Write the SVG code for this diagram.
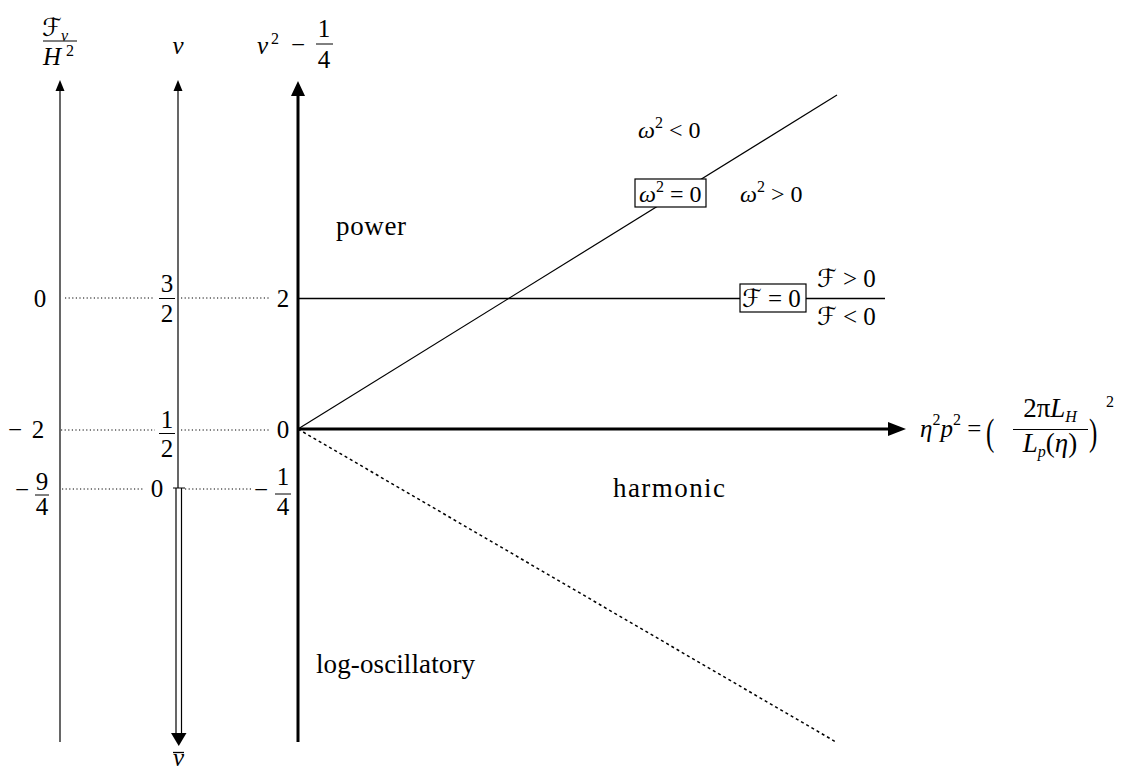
<svg xmlns="http://www.w3.org/2000/svg" width="1122" height="769" viewBox="0 0 1122 769">
<style>
text{font-family:"Liberation Serif","DejaVu Serif",serif;fill:#000;font-size:25px}
.i{font-style:italic}
.sc{font-family:"DejaVu Serif","DejaVu Sans","Noto Sans",serif;font-style:italic}
.w{font-size:27px}
.sm{font-size:24px}
.sup{font-size:16px}
.fx{font-size:27px}
.dot{stroke:#000;stroke-width:1;stroke-dasharray:1.2 2.4;fill:none}
.thin{stroke:#000;stroke-width:1.2;fill:none}
.thick{stroke:#000;stroke-width:3;fill:none}
.fl{stroke:#000;stroke-width:1}
.box{fill:#fff;stroke:#000;stroke-width:1.2}
</style>
<rect width="1122" height="769" fill="#fff"/>
<g id="connectors">
  <line class="thin" x1="60" y1="742" x2="60" y2="88"/>
  <polygon points="60,80 55.5,91 64.5,91"/>
  <line class="thin" x1="178" y1="488" x2="178" y2="88"/>
  <polygon points="178,80 173.5,91 182.5,91"/>
  <line class="fl" x1="173" y1="488" x2="185" y2="488"/>
  <line class="thin" x1="176" y1="488" x2="176" y2="735"/>
  <line class="thin" x1="181.5" y1="488" x2="181.5" y2="735"/>
  <polygon points="171,733 186.5,733 178.75,746"/>
  <line class="thick" x1="298" y1="742" x2="298" y2="92"/>
  <polygon points="298,81 291,96 305,96"/>
  <line class="thick" x1="298" y1="429" x2="892" y2="429"/>
  <polygon points="906,429 888,422 888,436"/>
  <line class="thin" x1="298" y1="429" x2="837" y2="95"/>
  <line x1="298" y1="298.5" x2="885" y2="298.5" stroke="#000" stroke-width="1.3"/>
  <line x1="298" y1="429" x2="836" y2="742" stroke="#000" stroke-width="1.5" stroke-dasharray="3 3"/>
  <line class="dot" x1="65" y1="298" x2="155" y2="298"/>
  <line class="dot" x1="181" y1="298" x2="271" y2="298"/>
  <line class="dot" x1="61" y1="430" x2="155" y2="430"/>
  <line class="dot" x1="181" y1="430" x2="271" y2="430"/>
  <line class="dot" x1="62" y1="489" x2="143" y2="489"/>
  <line class="dot" x1="185" y1="489" x2="253" y2="489"/>
</g>
<g id="label-FH2">
  <text class="sc" x="42" y="36">ℱ</text>
  <text class="i sup" x="61" y="41">ν</text>
  <line class="fl" x1="43" y1="41" x2="77" y2="41"/>
  <text class="i" x="43" y="65">H</text>
  <text class="sup" x="66" y="56">2</text>
</g>
<g id="label-nu">
  <text class="i" x="178" y="54" text-anchor="middle">ν</text>
</g>
<g id="label-nu2">
  <text class="i" x="257" y="54">ν</text>
  <text class="sup" x="271" y="44">2</text>
  <text x="298" y="53" text-anchor="middle">−</text>
  <text x="324" y="37" text-anchor="middle">1</text>
  <line class="fl" x1="316" y1="44" x2="333" y2="44"/>
  <text x="324" y="68" text-anchor="middle">4</text>
</g>
<g id="label-nubar">
  <line x1="173" y1="752.5" x2="184" y2="752.5" stroke="#000" stroke-width="1.3"/>
  <text class="i" x="178.5" y="766" text-anchor="middle" font-size="22">ν</text>
</g>
<g id="ticks-left">
  <text x="40" y="306.5" text-anchor="middle">0</text>
  <text x="15" y="438" text-anchor="middle">−</text>
  <text x="38" y="438" text-anchor="middle">2</text>
  <text x="22" y="498" text-anchor="middle">−</text>
  <text x="42" y="490" text-anchor="middle">9</text>
  <line class="fl" x1="35" y1="495" x2="49" y2="495"/>
  <text x="42" y="515" text-anchor="middle">4</text>
</g>
<g id="ticks-mid">
  <text x="167" y="292" text-anchor="middle">3</text>
  <line class="fl" x1="159" y1="298.5" x2="175" y2="298.5"/>
  <text x="167" y="322" text-anchor="middle">2</text>
  <text x="167" y="428" text-anchor="middle">1</text>
  <line class="fl" x1="159" y1="433.5" x2="175" y2="433.5"/>
  <text x="167" y="457" text-anchor="middle">2</text>
  <text x="157" y="497" text-anchor="middle">0</text>
</g>
<g id="ticks-right">
  <text x="283" y="306.5" text-anchor="middle">2</text>
  <text x="283" y="438" text-anchor="middle">0</text>
  <text x="261" y="498" text-anchor="middle">−</text>
  <text x="283" y="485" text-anchor="middle">1</text>
  <line class="fl" x1="275" y1="494" x2="291" y2="494"/>
  <text x="283" y="515" text-anchor="middle">4</text>
</g>
<g id="region-power">
  <text class="w" x="336" y="235" textLength="70">power</text>
</g>
<g id="region-harmonic">
  <text class="w" x="613" y="497" textLength="112">harmonic</text>
</g>
<g id="region-log">
  <text class="w" x="316" y="673" textLength="159">log-oscillatory</text>
</g>
<g id="omega-neg">
  <text class="sm" x="638" y="138"><tspan class="i">ω</tspan><tspan class="sup" dy="-10">2</tspan><tspan dy="10"> &lt; 0</tspan></text>
</g>
<g id="omega-zero">
  <rect class="box" x="635" y="179" width="71" height="28"/>
  <text class="sm" x="639" y="202"><tspan class="i">ω</tspan><tspan class="sup" dy="-10">2</tspan><tspan dy="10"> = 0</tspan></text>
</g>
<g id="omega-pos">
  <text class="sm" x="740" y="202"><tspan class="i">ω</tspan><tspan class="sup" dy="-10">2</tspan><tspan dy="10"> &gt; 0</tspan></text>
</g>
<g id="F-zero">
  <rect class="box" x="740" y="284" width="66" height="28"/>
  <text x="742" y="307"><tspan class="sc">ℱ</tspan> = 0</text>
</g>
<g id="F-pos">
  <text x="817" y="287"><tspan class="sc">ℱ</tspan> &gt; 0</text>
</g>
<g id="F-neg">
  <text x="817" y="325"><tspan class="sc">ℱ</tspan> &lt; 0</text>
</g>
<g id="x-label">
  <text x="920" y="437" font-size="26"><tspan class="i">η</tspan><tspan class="sup" dy="-12">2</tspan><tspan class="i" dy="12">p</tspan><tspan class="sup" dy="-12">2</tspan><tspan dy="12"> =</tspan></text>
  <text x="0" y="0" font-size="42" transform="translate(986,445) scale(1,1.5)">(</text>
  <text class="fx" x="1050" y="417" text-anchor="middle">2π<tspan class="i">L</tspan><tspan class="i sup" dy="5">H</tspan></text>
  <line class="fl" x1="1013" y1="429.5" x2="1088" y2="429.5"/>
  <text class="fx" x="1050" y="452" text-anchor="middle"><tspan class="i">L</tspan><tspan class="i sup" dy="5">p</tspan><tspan dy="-5">(</tspan><tspan class="i">η</tspan>)</text>
  <text x="0" y="0" font-size="42" transform="translate(1089,445) scale(1,1.5)">)</text>
  <text class="sup" x="1106" y="407">2</text>
</g>
</svg>
